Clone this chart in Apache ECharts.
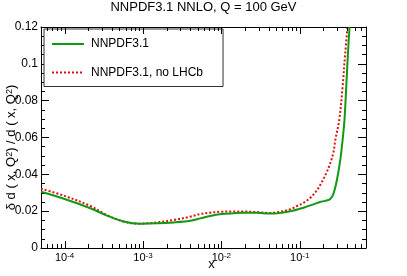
<!DOCTYPE html>
<html>
<head>
<meta charset="utf-8">
<script src="https://cdn.jsdelivr.net/npm/echarts@6/dist/echarts.min.js"></script>
<style>
html,body{margin:0;padding:0;background:#fff;}
#chart{width:407px;height:276px;}
</style>
</head>
<body>
<div id="chart"></div>
<script>
// ---- data ----
const title = 'NNPDF3.1 NNLO, Q = 100 GeV';
const seriesNames = ['NNPDF3.1', 'NNPDF3.1, no LHCb'];
const xRange = [5e-5, 0.7];
const yRange = [0, 0.12];
const yStep = 0.02;
const xDecades = [-4, -3, -2, -1];

const xGreen = [5.0e-5, 1.0e-4, 2.13e-4, 3.48e-4, 5.66e-4, 9.25e-4, 1.51e-3, 2.45e-3, 4.01e-3, 5.40e-3,
  7.21e-3, 1.0e-2, 1.43e-2, 1.92e-2, 2.84e-2, 4.21e-2, 5.12e-2, 7.57e-2, 0.112, 0.150,
  0.182, 0.211, 0.245, 0.270, 0.298, 0.329, 0.352, 0.372, 0.392, 0.412, 0.432];
const yGreen = [0.0305, 0.0266, 0.0216, 0.0176, 0.0144, 0.0132, 0.0134, 0.0139, 0.0148, 0.0161,
  0.0174, 0.0184, 0.0189, 0.0192, 0.0191, 0.0187, 0.0188, 0.0199, 0.0219, 0.0237,
  0.0250, 0.0256, 0.0266, 0.0297, 0.0369, 0.0478, 0.0586, 0.0695, 0.0876, 0.1057, 0.12];

const xRed = [5.0e-5, 1.0e-4, 2.13e-4, 3.48e-4, 5.66e-4, 9.25e-4, 1.51e-3, 2.45e-3, 4.01e-3, 5.40e-3,
  7.21e-3, 1.0e-2, 1.43e-2, 1.92e-2, 2.84e-2, 4.21e-2, 5.12e-2, 7.57e-2, 9.2e-2, 0.112,
  0.136, 0.166, 0.192, 0.222, 0.245, 0.270, 0.284, 0.319, 0.352, 0.380, 0.407];
const yRed = [0.0322, 0.0283, 0.0228, 0.0178, 0.0144, 0.0132, 0.0139, 0.0152, 0.0170, 0.0185,
  0.0192, 0.0197, 0.0198, 0.0198, 0.0195, 0.0190, 0.0194, 0.0210, 0.0228, 0.0246,
  0.0272, 0.0315, 0.0360, 0.0414, 0.0460, 0.0523, 0.0586, 0.0695, 0.0876, 0.1057, 0.12];

// ---- build options ----
const lg = Math.log10;
const xMin = lg(xRange[0]), xMax = lg(xRange[1]);
const MAJOR = 7, MINOR = 4;
// tick table for the x axes (log positions), drawn through the axis scale
const xTickRows = [];
for (let d = -5; d <= -1; d++) {
  for (let k = 1; k <= 9; k++) {
    const v = lg(k * Math.pow(10, d));
    if (v > xMin + 1e-6 && v < xMax - 0.02) xTickRows.push([v, yRange[0], k === 1 ? MAJOR : MINOR]);
  }
}
const FONT = 'Liberation Sans, Arial, Helvetica, sans-serif';

function yAx(pos, labels) {
  const ax = {
    type: 'value', position: pos, min: yRange[0], max: yRange[1], interval: yStep,
    axisLine: { show: true, lineStyle: { color: '#000', width: 1 } },
    splitLine: { show: false },
    axisTick: { show: true, inside: true, length: 8, lineStyle: { color: '#000', width: 1 } },
    minorTick: { show: true, splitNumber: 4, length: 4, lineStyle: { color: '#000', width: 1 } },
    axisLabel: labels ? {
      show: true, margin: 3, color: '#000', fontFamily: FONT, fontSize: 12,
      formatter: v => (Math.abs(v) < 1e-9 ? '0' : String(+v.toFixed(2)))
    } : { show: false }
  };
  if (labels) {
    ax.name = 'δ d ( x, Q{sup|2}) / d ( x, Q{sup|2})';
    ax.nameLocation = 'middle';
    ax.nameRotate = 90;
    ax.nameGap = 23;
    ax.nameMoveOverlap = false;
    ax.nameTextStyle = {
      color: '#000', fontFamily: FONT, fontSize: 13, padding: [0, 20, 0, 0],
      rich: { sup: { fontSize: 9, verticalAlign: 'top', lineHeight: 9, fontFamily: FONT, color: '#000' } }
    };
  }
  return ax;
}

const option = {
  animation: false,
  backgroundColor: '#fff',
  title: {
    text: title, left: 'center', top: 1, padding: 0,
    textStyle: { fontFamily: FONT, fontSize: 13, fontWeight: 'normal', color: '#000' }
  },
  grid: { left: 41, top: 27, width: 325, height: 221, outerBoundsMode: 'none', containLabel: false },
  legend: {
    orient: 'vertical', left: 44, top: 29,
    padding: [9, 20, 8, 7],
    itemWidth: 32, itemHeight: 14, itemGap: 16.5,
    backgroundColor: '#fff', borderColor: '#333', borderWidth: 1,
    itemStyle: { color: 'rgba(0,0,0,0)', borderColor: 'rgba(0,0,0,0)', borderWidth: 0 },
    textStyle: { fontFamily: FONT, fontSize: 12, color: '#000', padding: [0, 0, 0, 2] },
    data: seriesNames
  },
  xAxis: [
    {
      type: 'value', position: 'bottom', min: xMin, max: xMax,
      axisLine: { show: true, onZero: false, lineStyle: { color: '#000', width: 1 } },
      splitLine: { show: false },
      axisTick: { show: false },
      axisLabel: {
        show: true, customValues: xDecades, margin: 4, color: '#000', fontFamily: FONT, fontSize: 11,
        formatter: v => '10{sup|' + Math.round(v) + '}',
        rich: { sup: { fontSize: 8, verticalAlign: 'top', lineHeight: 8, fontFamily: FONT, color: '#000' } }
      },
      name: 'x', nameLocation: 'middle', nameGap: 10, nameMoveOverlap: false,
      nameTextStyle: { color: '#000', fontFamily: FONT, fontSize: 13, padding: [0, 0, 0, 16] }
    },
    {
      type: 'value', position: 'top', min: xMin, max: xMax,
      axisLine: { show: true, onZero: false, lineStyle: { color: '#000', width: 1 } },
      splitLine: { show: false }, axisTick: { show: false }, axisLabel: { show: false }
    }
  ],
  yAxis: [yAx('left', true), yAx('right', false)],
  series: [
    {
      name: 'xticks', type: 'custom', xAxisIndex: 0, yAxisIndex: 0, silent: true, clip: false, z: 5,
      encode: { x: 0, y: 1 },
      data: xTickRows,
      renderItem: function (params, api) {
        const v = api.value(0), len = api.value(2);
        const pb = api.coord([v, yRange[0]]);
        const pt = api.coord([v, yRange[1]]);
        const x = Math.round(pb[0]) + 0.5;
        const st = { stroke: '#000', lineWidth: 1 };
        return {
          type: 'group', children: [
            { type: 'line', shape: { x1: x, y1: pb[1], x2: x, y2: pb[1] - len }, style: st },
            { type: 'line', shape: { x1: x, y1: pt[1], x2: x, y2: pt[1] + len }, style: st }
          ]
        };
      }
    },
    {
      name: seriesNames[0], type: 'line', xAxisIndex: 0, yAxisIndex: 0,
      showSymbol: false, symbol: 'none', smooth: 0.35, clip: true,
      lineStyle: { color: '#119911', width: 2 }, itemStyle: { color: '#119911' },
      data: xGreen.map((x, i) => [lg(x), yGreen[i]]), z: 3
    },
    {
      name: seriesNames[1], type: 'line', xAxisIndex: 0, yAxisIndex: 0,
      showSymbol: false, symbol: 'none', smooth: 0.35, clip: true,
      lineStyle: { color: '#dd1111', width: 2, type: [2, 2] }, itemStyle: { color: '#dd1111' },
      data: xRed.map((x, i) => [lg(x), yRed[i]]), z: 2
    }
  ]
};
const chart = echarts.init(document.getElementById('chart'), null, { renderer: 'canvas' });
chart.setOption(option);
</script>
</body>
</html>
